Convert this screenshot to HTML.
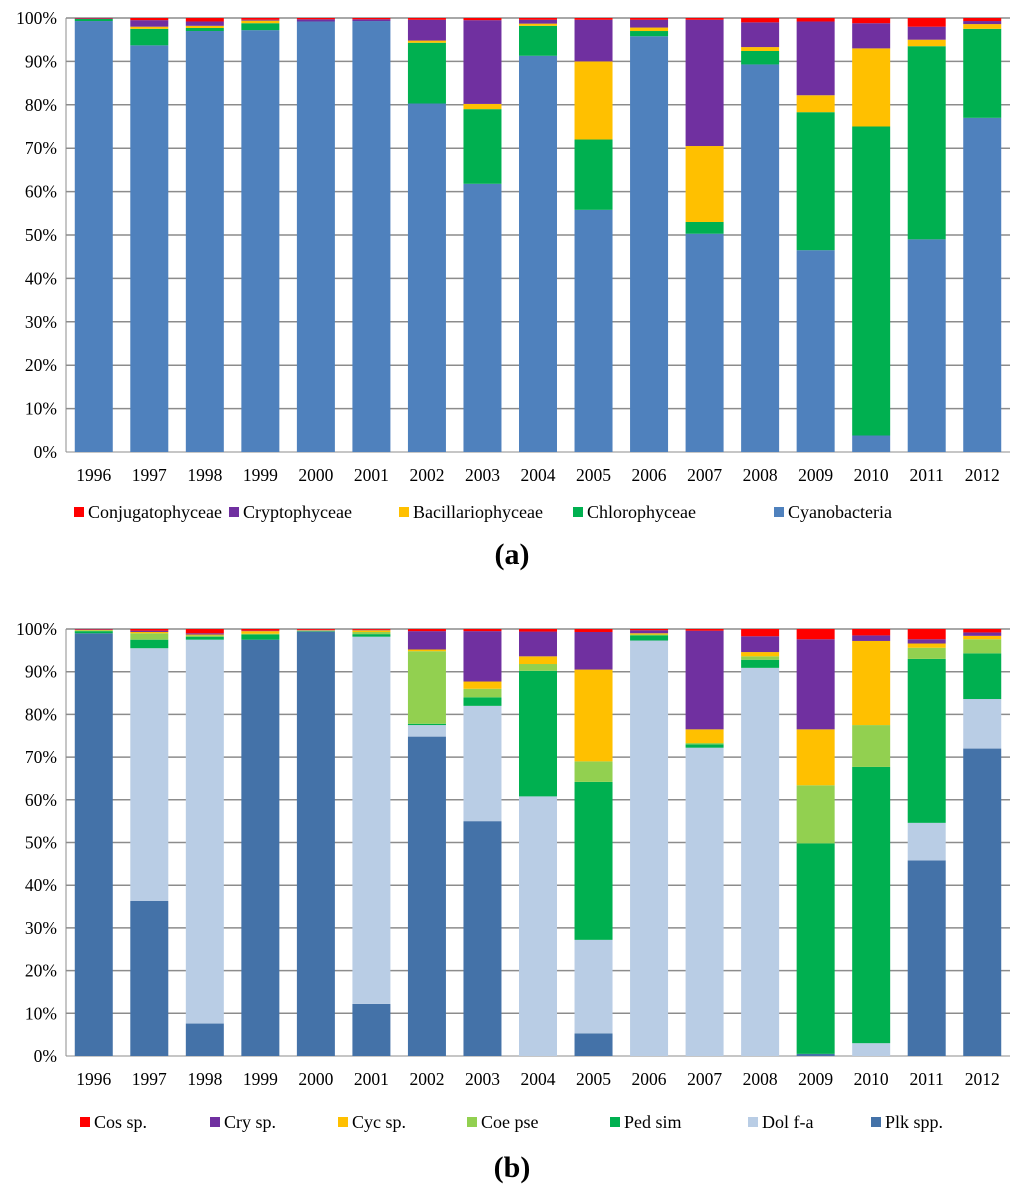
<!DOCTYPE html>
<html><head><meta charset="utf-8"><style>
body{margin:0;background:#fff}
svg text{font-family:"Liberation Serif",serif}
</style></head><body>
<svg id="s" width="1024" height="1198" xmlns="http://www.w3.org/2000/svg"></svg>
<script>
const years=['1996','1997','1998','1999','2000','2001','2002','2003','2004','2005','2006','2007','2008','2009','2010','2011','2012'];
const yTicks=['0%','10%','20%','30%','40%','50%','60%','70%','80%','90%','100%'];
const namesA=['Cyanobacteria','Chlorophyceae','Bacillariophyceae','Cryptophyceae','Conjugatophyceae'];
const colorsA=['#4f81bd','#00b050','#ffc000','#7030a0','#ff0000'];
const cyano=[99.3,93.7,97,97.2,99.2,99.3,80.3,61.8,91.3,55.8,95.8,50.3,89.3,46.5,3.8,49,77];
const chloro=[0.5,3.8,0.7,1.6,0,0,14,17.2,6.9,16.2,1.2,2.7,3.1,31.8,71.2,44.5,20.5];
const bacil=[0,0.5,0.5,0.6,0,0,0.5,1.2,0.5,18,0.8,17.5,0.9,3.9,18,1.5,1.1];
const crypto=[0.1,1.5,1,0.2,0.5,0.4,4.8,19.3,0.9,9.6,1.8,29.1,5.7,17,5.8,3,0.7];
const conj=[0.1,0.5,0.8,0.4,0.3,0.3,0.4,0.5,0.4,0.4,0.4,0.4,1,0.8,1.2,2,0.7];
const namesB=['Plk spp.','Dol f-a','Ped sim','Coe pse','Cyc sp.','Cry sp.','Cos sp.'];
const colorsB=['#4472a8','#b9cde5','#00b050','#92d050','#ffc000','#7030a0','#ff0000'];
const plk=[99,36.3,7.6,97.5,99.4,12.2,74.8,55,0,5.3,0,0,0,0.5,0,45.8,72];
const dol=[0,59.2,89.9,0,0,86,2.7,27,60.8,21.9,97.3,72.2,90.9,0,3,8.8,11.6];
const ped=[0.5,2,0.7,1.2,0.1,0.6,0.3,2,29.4,37,1.2,0.8,1.9,49.3,64.7,38.4,10.7];
const coe=[0.2,1.5,0.3,0.2,0.1,0.5,17,2,1.6,4.8,0.2,0.3,0.8,13.6,9.8,2.6,3.3];
const cyc=[0.1,0.3,0.2,0.6,0.1,0.4,0.4,1.7,1.8,21.5,0.3,3.2,1,13.1,19.7,1,0.8];
const cry=[0.1,0.3,0.3,0.1,0.1,0.1,4.3,11.8,5.8,8.8,0.7,23.1,3.7,21.1,1.3,1,0.8];
const cos=[0.1,0.4,1,0.4,0.2,0.2,0.5,0.5,0.6,0.7,0.3,0.4,1.7,2.4,1.5,2.4,0.8];

const NS='http://www.w3.org/2000/svg',svg=document.getElementById('s');
function el(t,a,p){const e=document.createElementNS(NS,t);for(const k in a)e.setAttribute(k,a[k]);(p||svg).appendChild(e);return e;}
function chart(id,top,bot,series,colors,names,legX,legY,label,labelY){
  const g=el('g',{});
  
  
  const x0=66,x1=1010,step=(x1-x0)/years.length,bw=38;
  const y=v=>bot-(bot-top)*v/100;
  yTicks.forEach((t,i)=>{
    const yy=y(i*10);
    if(i>0){const l=el('line',{x1:x0,x2:x1,y1:yy,y2:yy,stroke:'#8c8c8c','stroke-width':1.5},g);
    
    }
    const tx=el('text',{x:57,y:yy+6,'text-anchor':'end','font-size':17.5},g);tx.textContent=t;
    
    
  });
  el('line',{x1:x0,x2:x0,y1:top,y2:bot,stroke:'#8c8c8c','stroke-width':1},g);
  el('line',{x1:x0,x2:x1,y1:bot,y2:bot,stroke:'#8c8c8c','stroke-width':1},g);
  years.forEach((yr,i)=>{
    const cx=x0+step*(i+0.5);let c=0;
    series.forEach((s,k)=>{
      const v=s[i];if(v<=0)return;
      const r=el('rect',{x:cx-bw/2,y:y(c+v),width:bw,height:y(c)-y(c+v),fill:colors[k]},g);
      
      
      c+=v;
    });
    const tx=el('text',{x:cx,y:bot+29,'text-anchor':'middle','font-size':17.5},g);tx.textContent=yr;
    
    
  });
  for(let k=series.length-1,j=0;k>=0;k--,j++){
    const lx=legX[j];
    const m=el('rect',{x:lx,y:legY-11,width:10,height:10,fill:colors[k]},g);
    
    
    const t=el('text',{x:lx+14,y:legY,'font-size':18},g);t.textContent=names[k];
    
    
  }
  const p=el('text',{x:512,y:labelY,'text-anchor':'middle','font-size':30,'font-weight':'bold'},g);
  p.textContent='('+label+')';
  
  
}
chart('chart-a',18,452,[cyano,chloro,bacil,crypto,conj],colorsA,namesA,[74,229,399,573,774],518,'a',564);
chart('chart-b',629,1056,[plk,dol,ped,coe,cyc,cry,cos],colorsB,namesB,[80,210,338,467,610,748,871],1128,'b',1177);
</script>
</body></html>
